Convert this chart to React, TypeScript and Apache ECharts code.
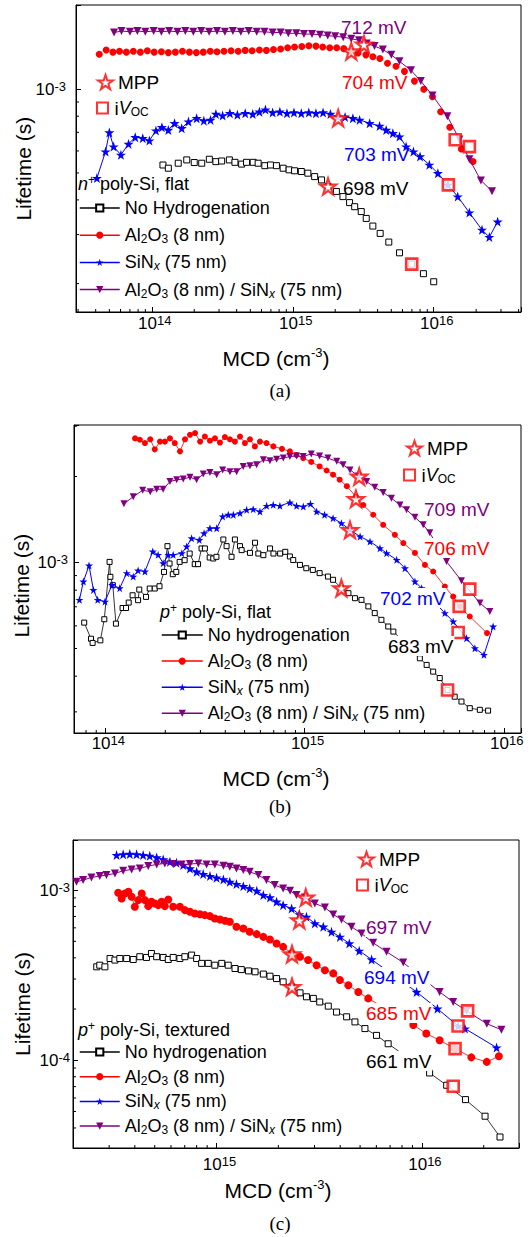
import React, { useEffect, useRef } from 'react';
import * as echarts from 'echarts';

// ---------------- DATA ----------------
// Panel (a): n+ poly-Si, flat
const aXRange = [2.9e13, 4.16e16];
const aYRange = [1.58e-4, 2.01e-3];
const aNoH = [[1.2e14,5.34e-4],[1.31e14,5.2e-4],[1.54e14,5.42e-4],[1.77e14,5.57e-4],[2.0e14,5.45e-4],[2.26e14,5.42e-4],[2.56e14,5.6e-4],[2.85e14,5.49e-4],[3.13e14,5.52e-4],[3.55e14,5.57e-4],[3.89e14,5.46e-4],[4.34e14,5.38e-4],[4.7e14,5.46e-4],[5.24e14,5.46e-4],[5.68e14,5.42e-4],[6.34e14,5.31e-4],[6.95e14,5.34e-4],[7.66e14,5.31e-4],[8.55e14,5.2e-4],[9.42e14,5.13e-4],[1.03e15,5.09e-4],[1.15e15,5.06e-4],[1.28e15,4.99e-4],[1.43e15,4.85e-4],[1.6e15,4.72e-4],[1.78e15,4.47e-4],[2.04e15,4.29e-4],[2.27e15,4.11e-4],[2.53e15,3.91e-4],[2.75e15,3.78e-4],[3.06e15,3.63e-4],[3.32e15,3.43e-4],[3.7e15,3.22e-4],[4.17e15,3.03e-4],[4.8e15,2.82e-4],[5.72e15,2.58e-4],[6.98e15,2.35e-4],[8.45e15,2.17e-4],[1.0e16,2.03e-4]];
const aAl = [[4.24e13,1.336e-3],[4.75e13,1.385e-3],[5.3e13,1.36e-3],[5.9e13,1.37e-3],[6.6e13,1.36e-3],[7.4e13,1.37e-3],[8.3e13,1.36e-3],[9.3e13,1.375e-3],[1.04e14,1.36e-3],[1.17e14,1.365e-3],[1.31e14,1.355e-3],[1.47e14,1.36e-3],[1.65e14,1.37e-3],[1.85e14,1.36e-3],[2.07e14,1.355e-3],[2.32e14,1.36e-3],[2.6e14,1.37e-3],[2.9e14,1.365e-3],[3.25e14,1.37e-3],[3.65e14,1.375e-3],[4.1e14,1.37e-3],[4.6e14,1.38e-3],[5.15e14,1.375e-3],[5.8e14,1.385e-3],[6.5e14,1.38e-3],[7.3e14,1.39e-3],[8.2e14,1.395e-3],[9.2e14,1.41e-3],[1.03e15,1.42e-3],[1.16e15,1.425e-3],[1.3e15,1.435e-3],[1.46e15,1.43e-3],[1.63e15,1.42e-3],[1.83e15,1.41e-3],[2.05e15,1.41e-3],[2.3e15,1.4e-3],[2.6e15,1.37e-3],[2.9e15,1.35e-3],[3.3e15,1.33e-3],[3.7e15,1.31e-3],[4.15e15,1.29e-3],[4.7e15,1.24e-3],[5.4e15,1.21e-3],[6.2e15,1.16e-3],[7.3e15,1.07e-3],[8.5e15,1.0e-3],[9.8e15,9.4e-4],[1.12e16,8.3e-4],[1.3e16,7.3e-4],[1.57e16,6.1e-4],[1.9e16,5.5e-4]];
const aSiN = [[4.08e13,4.79e-4],[4.7e13,5.97e-4],[5.0e13,6.99e-4],[5.36e13,6.22e-4],[6.04e13,5.81e-4],[6.84e13,6.36e-4],[7.63e13,6.72e-4],[8.63e13,6.67e-4],[9.62e13,6.54e-4],[1.07e14,7.1e-4],[1.18e14,7.3e-4],[1.31e14,7.14e-4],[1.45e14,7.55e-4],[1.63e14,7.24e-4],[1.82e14,7.65e-4],[2.08e14,7.87e-4],[2.34e14,7.71e-4],[2.61e14,7.76e-4],[2.85e14,8.15e-4],[3.18e14,8.04e-4],[3.58e14,8.2e-4],[4.05e14,8.1e-4],[4.6e14,8.2e-4],[5.2e14,8.15e-4],[5.8e14,8.3e-4],[6.4e14,8.45e-4],[7.2e14,8.25e-4],[8.1e14,8.3e-4],[9.1e14,8.2e-4],[1.02e15,8.25e-4],[1.15e15,8.2e-4],[1.3e15,8.25e-4],[1.46e15,8.2e-4],[1.64e15,8.25e-4],[1.85e15,8.15e-4],[2.1e15,7.95e-4],[2.35e15,7.95e-4],[2.67e15,7.87e-4],[2.98e15,7.76e-4],[3.51e15,7.55e-4],[4.13e15,7.38e-4],[4.6e15,7.14e-4],[5.13e15,6.95e-4],[5.72e15,6.76e-4],[6.37e15,6.22e-4],[7.18e15,5.97e-4],[8.0e15,5.73e-4],[9.31e15,5.35e-4],[1.07e16,4.99e-4],[1.26e16,4.53e-4],[1.48e16,4.11e-4],[1.79e16,3.6e-4],[2.2e16,3.12e-4],[2.48e16,2.94e-4],[2.84e16,3.34e-4]];
const aBoth = [[5.4e13,1.6e-3],[6.1e13,1.62e-3],[7.0e13,1.61e-3],[7.9e13,1.62e-3],[9.0e13,1.61e-3],[1.03e14,1.62e-3],[1.17e14,1.61e-3],[1.33e14,1.62e-3],[1.52e14,1.61e-3],[1.73e14,1.62e-3],[1.97e14,1.61e-3],[2.24e14,1.62e-3],[2.55e14,1.61e-3],[2.9e14,1.62e-3],[3.3e14,1.61e-3],[3.76e14,1.62e-3],[4.28e14,1.61e-3],[4.87e14,1.62e-3],[5.55e14,1.61e-3],[6.3e14,1.61e-3],[7.2e14,1.6e-3],[8.2e14,1.6e-3],[9.3e14,1.59e-3],[1.06e15,1.59e-3],[1.2e15,1.58e-3],[1.37e15,1.58e-3],[1.56e15,1.57e-3],[1.77e15,1.56e-3],[2.0e15,1.55e-3],[2.28e15,1.54e-3],[2.6e15,1.52e-3],[2.95e15,1.5e-3],[3.35e15,1.46e-3],[3.8e15,1.43e-3],[4.36e15,1.39e-3],[5.0e15,1.33e-3],[5.72e15,1.26e-3],[6.9e15,1.17e-3],[8.1e15,1.07e-3],[9.8e15,9.5e-4],[1.25e16,8.0e-4],[1.52e16,6.6e-4],[1.79e16,5.6e-4],[2.16e16,4.7e-4],[2.59e16,4.3e-4]];
const aMPP = [[3.2e15,1.45e-3],[2.6e15,1.37e-3],[2.1e15,7.87e-4],[1.78e15,4.47e-4]];
const aVoc = [[1.42e16,6.58e-4],[1.79e16,6.22e-4],[1.27e16,4.53e-4],[6.98e15,2.35e-4]];
const aNotes = ['712 mV', '704 mV', '703 mV', '698 mV'];

// Panel (b): p+ poly-Si, flat
const bXRange = [6.96e13, 1.22e16];
const bYRange = [2.53e-4, 3.03e-3];
const bNoH = [[7.83e13,6.16e-4],[8.47e13,5.41e-4],[8.63e13,5.23e-4],[9.44e13,5.34e-4],[9.88e13,6.33e-4],[1.05e14,1.005e-3],[1.06e14,8.91e-4],[1.09e14,8.33e-4],[1.13e14,6.11e-4],[1.22e14,6.93e-4],[1.27e14,6.93e-4],[1.31e14,7.24e-4],[1.37e14,7.68e-4],[1.46e14,7.38e-4],[1.48e14,8.04e-4],[1.6e14,7.58e-4],[1.67e14,8.11e-4],[1.77e14,8.11e-4],[1.87e14,8.26e-4],[1.97e14,9.27e-4],[2.05e14,1.141e-3],[2.1e14,9.92e-4],[2.18e14,9.1e-4],[2.27e14,9.27e-4],[2.36e14,1.005e-3],[2.5e14,1.019e-3],[2.65e14,1.075e-3],[2.81e14,9.87e-4],[2.92e14,9.87e-4],[3.04e14,1.12e-3],[3.16e14,1.12e-3],[3.34e14,1.041e-3],[3.48e14,1.033e-3],[3.61e14,1.047e-3],[3.91e14,1.204e-3],[4.06e14,1.141e-3],[4.3e14,1.047e-3],[4.47e14,1.204e-3],[4.74e14,1.141e-3],[4.83e14,1.105e-3],[5.32e14,1.081e-3],[5.64e14,1.173e-3],[5.86e14,1.075e-3],[6.21e14,1.061e-3],[6.71e14,1.12e-3],[6.98e14,1.075e-3],[7.54e14,1.075e-3],[8.0e14,1.09e-3],[8.44e14,1.05e-3],[8.77e14,1.02e-3],[9.48e14,9.81e-4],[1.02e15,9.55e-4],[1.1e15,9.42e-4],[1.19e15,9.18e-4],[1.31e15,8.93e-4],[1.39e15,8.7e-4],[1.53e15,8.13e-4],[1.66e15,7.81e-4],[1.79e15,7.5e-4],[1.93e15,7.4e-4],[2.09e15,7.02e-4],[2.25e15,6.65e-4],[2.43e15,6.3e-4],[2.63e15,5.97e-4],[2.79e15,5.73e-4],[3.79e15,4.62e-4],[4.1e15,4.38e-4],[4.42e15,4.15e-4],[4.77e15,3.94e-4],[5.22e15,3.58e-4],[5.67e15,3.39e-4],[6.13e15,3.26e-4],[6.75e15,3.09e-4],[7.58e15,3.05e-4],[8.34e15,3.03e-4]];
const bAl = [[1.41e14,2.72e-3],[1.49e14,2.69e-3],[1.58e14,2.62e-3],[1.68e14,2.7e-3],[1.77e14,2.49e-3],[1.88e14,2.65e-3],[1.99e14,2.65e-3],[2.11e14,2.72e-3],[2.23e14,2.62e-3],[2.37e14,2.45e-3],[2.51e14,2.7e-3],[2.66e14,2.8e-3],[2.82e14,2.84e-3],[2.99e14,2.65e-3],[3.16e14,2.76e-3],[3.35e14,2.67e-3],[3.55e14,2.72e-3],[3.76e14,2.63e-3],[3.98e14,2.75e-3],[4.22e14,2.7e-3],[4.47e14,2.65e-3],[4.74e14,2.76e-3],[5.02e14,2.62e-3],[5.32e14,2.7e-3],[5.63e14,2.55e-3],[5.97e14,2.65e-3],[6.44e14,2.62e-3],[6.97e14,2.55e-3],[7.7e14,2.5e-3],[8.44e14,2.45e-3],[9.1e14,2.38e-3],[9.84e14,2.32e-3],[1.08e15,2.25e-3],[1.19e15,2.17e-3],[1.29e15,2.1e-3],[1.39e15,2.03e-3],[1.5e15,1.95e-3],[1.63e15,1.85e-3],[1.81e15,1.7e-3],[1.97e15,1.59e-3],[2.21e15,1.47e-3],[2.48e15,1.355e-3],[2.84e15,1.25e-3],[3.13e15,1.17e-3],[3.58e15,1.08e-3],[4.02e15,9.81e-4],[4.42e15,9.3e-4],[5.06e15,8.24e-4],[5.57e15,7.6e-4],[6.01e15,7.02e-4],[6.75e15,6.47e-4],[8.24e15,5.66e-4]];
const bSiN = [[7.41e13,7.4e-4],[7.76e13,8.58e-4],[8.28e13,9.76e-4],[8.71e13,8.02e-4],[9.15e13,7.4e-4],[9.96e13,7.3e-4],[1.08e14,8.35e-4],[1.18e14,8.13e-4],[1.28e14,9.18e-4],[1.38e14,8.93e-4],[1.46e14,9.38e-4],[1.58e14,9.3e-4],[1.73e14,1.093e-3],[1.84e14,1.064e-3],[1.95e14,9.95e-4],[2.07e14,1.064e-3],[2.19e14,1.064e-3],[2.42e14,1.078e-3],[2.56e14,1.138e-3],[2.71e14,1.216e-3],[2.96e14,1.2e-3],[3.13e14,1.267e-3],[3.35e14,1.318e-3],[3.62e14,1.318e-3],[3.88e14,1.449e-3],[4.14e14,1.47e-3],[4.39e14,1.47e-3],[4.74e14,1.49e-3],[5.12e14,1.529e-3],[5.52e14,1.537e-3],[5.97e14,1.508e-3],[6.45e14,1.579e-3],[6.96e14,1.592e-3],[7.52e14,1.579e-3],[8.44e14,1.622e-3],[9.12e14,1.579e-3],[9.85e14,1.57e-3],[1.07e15,1.605e-3],[1.15e15,1.508e-3],[1.26e15,1.47e-3],[1.39e15,1.43e-3],[1.53e15,1.373e-3],[1.69e15,1.301e-3],[1.9e15,1.233e-3],[2.13e15,1.184e-3],[2.39e15,1.122e-3],[2.58e15,1.078e-3],[2.9e15,1.022e-3],[3.19e15,9.55e-4],[3.58e15,8.58e-4],[3.87e15,8.13e-4],[5.06e15,6.65e-4],[5.57e15,6.22e-4],[6.5e15,5.43e-4],[7.16e15,5.01e-4],[7.95e15,4.75e-4],[8.84e15,5.97e-4]];
const bBoth = [[1.24e14,1.605e-3],[1.38e14,1.7e-3],[1.54e14,1.79e-3],[1.68e14,1.77e-3],[1.81e14,1.806e-3],[1.95e14,1.806e-3],[2.11e14,1.92e-3],[2.28e14,1.948e-3],[2.46e14,1.96e-3],[2.66e14,1.99e-3],[2.87e14,1.948e-3],[3.1e14,2.04e-3],[3.35e14,2.065e-3],[3.62e14,2.03e-3],[3.88e14,2.11e-3],[4.22e14,2.08e-3],[4.56e14,2.08e-3],[4.92e14,2.17e-3],[5.32e14,2.18e-3],[5.74e14,2.2e-3],[6.21e14,2.29e-3],[6.7e14,2.27e-3],[7.24e14,2.3e-3],[7.82e14,2.32e-3],[8.44e14,2.35e-3],[9.12e14,2.36e-3],[9.84e14,2.35e-3],[1.08e15,2.4e-3],[1.19e15,2.36e-3],[1.31e15,2.32e-3],[1.45e15,2.26e-3],[1.56e15,2.2e-3],[1.69e15,2.11e-3],[1.86e15,2.01e-3],[2.05e15,1.92e-3],[2.25e15,1.835e-3],[2.48e15,1.76e-3],[2.73e15,1.68e-3],[3.01e15,1.59e-3],[3.25e15,1.53e-3],[3.58e15,1.44e-3],[3.94e15,1.355e-3],[4.25e15,1.27e-3],[5.16e15,1.008e-3],[6.13e15,8.63e-4],[7.59e15,7.21e-4],[8.51e15,6.74e-4]];
const bMPP = [[1.88e15,2.0e-3],[1.81e15,1.67e-3],[1.69e15,1.3e-3],[1.53e15,8.13e-4]];
const bVoc = [[6.75e15,8.07e-4],[5.97e15,7.02e-4],[5.9e15,5.69e-4],[5.22e15,3.58e-4]];
const bNotes = ['709 mV', '706 mV', '702 mV', '683 mV'];

// Panel (c): p+ poly-Si, textured
const cXRange = [2.0e14, 2.97e16];
const cYRange = [3.05e-5, 1.97e-3];
const cNoH = [[2.61e14,3.54e-4],[2.7e14,3.62e-4],[2.86e14,3.54e-4],[3.03e14,3.96e-4],[3.2e14,3.88e-4],[3.38e14,3.96e-4],[3.65e14,3.96e-4],[3.93e14,3.91e-4],[4.23e14,4.06e-4],[4.56e14,4.02e-4],[4.82e14,4.24e-4],[5.11e14,4.06e-4],[5.5e14,4.02e-4],[5.82e14,3.91e-4],[6.15e14,4.02e-4],[6.63e14,3.96e-4],[7.01e14,4.06e-4],[7.56e14,4.15e-4],[8.0e14,3.96e-4],[8.46e14,3.71e-4],[9.11e14,3.71e-4],[9.81e14,3.62e-4],[1.06e15,3.71e-4],[1.14e15,3.62e-4],[1.23e15,3.46e-4],[1.32e15,3.41e-4],[1.43e15,3.35e-4],[1.54e15,3.31e-4],[1.69e15,3.21e-4],[1.82e15,3.12e-4],[1.96e15,3.02e-4],[2.11e15,2.89e-4],[2.32e15,2.7e-4],[2.55e15,2.49e-4],[2.74e15,2.36e-4],[2.96e15,2.31e-4],[3.18e15,2.2e-4],[3.5e15,2.08e-4],[3.84e15,1.92e-4],[4.3e15,1.8e-4],[4.72e15,1.68e-4],[5.28e15,1.535e-4],[6.01e15,1.4e-4],[6.85e15,1.25e-4],[1.09e16,8.42e-5],[1.32e16,7.13e-5],[1.63e16,5.87e-5],[2.03e16,4.69e-5],[2.4e16,3.54e-5]];
const cAl = [[3.32e14,9.65e-4],[3.45e14,8.93e-4],[3.58e14,9.56e-4],[3.72e14,9.78e-4],[3.86e14,9.14e-4],[4.0e14,7.98e-4],[4.16e14,8.73e-4],[4.32e14,9.56e-4],[4.48e14,8.73e-4],[4.65e14,8.05e-4],[4.82e14,8.54e-4],[5.01e14,8.35e-4],[5.2e14,8.16e-4],[5.4e14,8.54e-4],[5.6e14,8.05e-4],[5.82e14,8.81e-4],[6.15e14,7.98e-4],[6.63e14,7.98e-4],[7.01e14,7.63e-4],[7.42e14,7.46e-4],[7.84e14,7.29e-4],[8.3e14,7.22e-4],[8.77e14,7.13e-4],[9.29e14,7.03e-4],[9.81e14,6.81e-4],[1.04e15,6.72e-4],[1.1e15,6.6e-4],[1.16e15,6.51e-4],[1.25e15,6.09e-4],[1.35e15,5.95e-4],[1.45e15,5.69e-4],[1.57e15,5.51e-4],[1.69e15,5.31e-4],[1.82e15,5.13e-4],[1.96e15,4.86e-4],[2.11e15,4.64e-4],[2.32e15,4.25e-4],[2.55e15,4.06e-4],[2.79e15,3.88e-4],[3.07e15,3.62e-4],[3.37e15,3.38e-4],[3.7e15,3.24e-4],[3.99e15,2.96e-4],[4.38e15,2.76e-4],[4.9e15,2.52e-4],[5.48e15,2.31e-4],[9.08e15,1.61e-4],[1.05e16,1.435e-4],[1.22e16,1.31e-4],[1.45e16,1.17e-4],[1.74e16,1.04e-4],[2.07e16,9.78e-5],[2.37e16,1.056e-4]];
const cSiN = [[3.26e14,1.606e-3],[3.51e14,1.622e-3],[3.78e14,1.63e-3],[4.08e14,1.622e-3],[4.39e14,1.606e-3],[4.73e14,1.59e-3],[5.11e14,1.556e-3],[5.5e14,1.515e-3],[5.93e14,1.468e-3],[6.38e14,1.448e-3],[6.88e14,1.404e-3],[7.42e14,1.34e-3],[8.0e14,1.282e-3],[8.61e14,1.242e-3],[9.29e14,1.209e-3],[1.0e15,1.182e-3],[1.08e15,1.156e-3],[1.16e15,1.119e-3],[1.25e15,1.085e-3],[1.35e15,1.055e-3],[1.45e15,1.023e-3],[1.57e15,9.91e-4],[1.69e15,9.35e-4],[1.82e15,9.05e-4],[1.96e15,8.54e-4],[2.11e15,8.16e-4],[2.32e15,7.8e-4],[2.53e15,7.2e-4],[2.74e15,6.97e-4],[3.01e15,6.37e-4],[3.31e15,6.09e-4],[3.63e15,5.69e-4],[3.99e15,5.31e-4],[4.43e15,4.86e-4],[4.95e15,4.4e-4],[5.69e15,3.91e-4],[9.42e15,2.52e-4],[1.19e16,2.01e-4],[1.5e16,1.59e-4],[1.62e16,1.535e-4],[2.31e16,1.187e-4]];
const cBoth = [[2.08e14,1.119e-3],[2.24e14,1.145e-3],[2.46e14,1.187e-3],[2.7e14,1.209e-3],[2.91e14,1.225e-3],[3.2e14,1.253e-3],[3.51e14,1.299e-3],[3.86e14,1.323e-3],[4.23e14,1.34e-3],[4.65e14,1.384e-3],[5.11e14,1.416e-3],[5.6e14,1.435e-3],[6.15e14,1.422e-3],[6.76e14,1.416e-3],[7.42e14,1.422e-3],[8.15e14,1.435e-3],[8.94e14,1.416e-3],[9.81e14,1.416e-3],[1.08e15,1.39e-3],[1.16e15,1.372e-3],[1.25e15,1.34e-3],[1.35e15,1.311e-3],[1.45e15,1.282e-3],[1.6e15,1.225e-3],[1.75e15,1.145e-3],[1.92e15,1.07e-3],[2.11e15,1.023e-3],[2.28e15,9.91e-4],[2.45e15,9.35e-4],[2.69e15,9.05e-4],[3.01e15,8.35e-4],[3.37e15,7.91e-4],[3.7e15,7.19e-4],[4.06e15,6.72e-4],[4.54e15,6.09e-4],[5.08e15,5.56e-4],[5.79e15,4.9e-4],[6.73e15,4.34e-4],[8.11e15,3.75e-4],[1.22e16,2.52e-4],[1.42e16,2.2e-4],[1.65e16,1.95e-4],[2.07e16,1.64e-4],[2.44e16,1.51e-4]];
const cMPP = [[2.72e15,9.05e-4],[2.53e15,6.66e-4],[2.33e15,4.2e-4],[2.33e15,2.7e-4]];
const cVoc = [[1.67e16,1.95e-4],[1.5e16,1.59e-4],[1.45e16,1.17e-4],[1.42e16,7.03e-5]];
const cNotes = ['697 mV', '694 mV', '685 mV', '661 mV'];

const namesA = ['No Hydrogenation', 'Al2O3 (8 nm)', 'SiNx (75 nm)', 'Al2O3 (8 nm) / SiNx (75 nm)'];
const namesBC = ['No hydrogenation', 'Al2O3 (8 nm)', 'SiNx (75 nm)', 'Al2O3 (8 nm) / SiNx (75 nm)'];
const headers = ['{it|n}{sup|+} poly-Si, flat', '{it|p}{sup|+} poly-Si, flat', '{it|p}{sup|+} poly-Si, textured'];
const captions = ['(a)', '(b)', '(c)'];

// ---------------- STYLE / LAYOUT ----------------
const FONT = "'Liberation Sans', Arial, Helvetica, sans-serif";
const SERIF = "'Liberation Serif', 'Times New Roman', serif";
const PURPLE = '#800080';
const RED = '#ff0000';
const BLUE = '#0000ff';
const STAR = 'path://M50,0L61.8,35.1L98.1,35.1L68.8,56.8L79.4,91L50,70L20.6,91L31.2,56.8L1.9,35.1L38.2,35.1Z';
const DTRI = 'path://M0,0L10,0L5,9Z';
const SQR = 'path://M0,0L10,0L10,10L0,10Z';

const LAYOUT = [
  { grid: { left: 76, top: 5, width: 445, height: 307 }, xMargin: 2, yMargin: 10, sizes: [6, 7, 10, 8], lineW: [0, 0, 1, 1],
    legend: { left: 79, top: 198, gap: 7.2, w: 40 }, mpp: { left: 97, top: 72 }, voc: { left: 96, top: 98 },
    header: [78, 184], notes: [[340, 27], [341, 82], [343, 154], [342, 188]], noteBg: false,
    ytitle: [23, 168.7], xtitle: [276, 358], caption: [280, 390] },
  { grid: { left: 74, top: 425, width: 447, height: 308 }, xMargin: 1, yMargin: 6, sizes: [5, 6, 8, 7], lineW: [0.8, 0.8, 1, 1],
    legend: { left: 161, top: 625, gap: 6.1, w: 41 }, mpp: { left: 406, top: 438 }, voc: { left: 403, top: 465 },
    header: [160, 612], notes: [[423, 509], [423, 548], [379, 598], [387, 646]], noteBg: true,
    ytitle: [21.7, 585.7], xtitle: [276, 778], caption: [280, 806] },
  { grid: { left: 73, top: 840, width: 446, height: 308 }, xMargin: 7, yMargin: 3, sizes: [6, 8, 10, 8], lineW: [0.8, 0.8, 1, 1],
    legend: { left: 79, top: 1042, gap: 4.7, w: 40 }, mpp: { left: 358, top: 849 }, voc: { left: 356, top: 875 },
    header: [78, 1030], notes: [[365, 927], [363, 977], [365, 1013], [365, 1061]], noteBg: true,
    ytitle: [22.7, 1004], xtitle: [278, 1190], caption: [280, 1223] },
];

const PANELS = [
  { xr: aXRange, yr: aYRange, data: [aNoH, aAl, aSiN, aBoth], mpp: aMPP, voc: aVoc, notes: aNotes, names: namesA },
  { xr: bXRange, yr: bYRange, data: [bNoH, bAl, bSiN, bBoth], mpp: bMPP, voc: bVoc, notes: bNotes, names: namesBC },
  { xr: cXRange, yr: cYRange, data: [cNoH, cAl, cSiN, cBoth], mpp: cMPP, voc: cVoc, notes: cNotes, names: namesBC },
];

const SERIES_STYLE = [
  { line: '#000', symbol: 'rect', fill: '#fff', border: '#000', bw: 1 },
  { line: RED, symbol: 'circle', fill: RED, border: RED, bw: 0 },
  { line: BLUE, symbol: STAR, fill: BLUE, border: BLUE, bw: 0 },
  { line: PURPLE, symbol: DTRI, fill: PURPLE, border: PURPLE, bw: 0 },
];
const NOTE_COLORS = [[PURPLE, RED, BLUE, '#000'], [PURPLE, RED, BLUE, '#000'], [PURPLE, BLUE, RED, '#000']];

const LEGEND_RICH_TEXT: Record<string, string> = {
  'Al2O3 (8 nm)': 'Al{sub|2}O{sub|3} (8 nm)',
  'SiNx (75 nm)': 'SiN{subi|x} (75 nm)',
  'Al2O3 (8 nm) / SiNx (75 nm)': 'Al{sub|2}O{sub|3} (8 nm) / SiN{subi|x} (75 nm)',
  'iVOC': 'i{it|V}{sub|OC}',
};

const TEXT_RICH = {
  sub: { fontSize: 12, lineHeight: 8, verticalAlign: 'bottom', fontFamily: FONT, color: '#000' },
  subi: { fontSize: 12, lineHeight: 8, verticalAlign: 'bottom', fontStyle: 'italic', fontFamily: FONT, color: '#000' },
  it: { fontSize: 18, lineHeight: 20, fontStyle: 'italic', fontFamily: FONT, color: '#000' },
  sup: { fontSize: 12, lineHeight: 6, verticalAlign: 'top', fontFamily: FONT, color: '#000' },
};
const TICK_RICH = {
  b: { fontSize: 17, lineHeight: 19, fontFamily: FONT, fill: '#000', color: '#000' },
  sup: { fontSize: 13, lineHeight: 6, verticalAlign: 'top', fontFamily: FONT, fill: '#000', color: '#000' },
};

function powLabel(v: number) {
  const l = Math.log10(v);
  const e = Math.round(l);
  if (Math.abs(l - e) > 1e-6) return '';
  return '{b|10}{sup|' + e + '}';
}

function majorTicks(min: number, max: number) {
  const out: number[] = [];
  for (let e = Math.ceil(Math.log10(min)); e <= Math.floor(Math.log10(max)); e++) out.push(Math.pow(10, e));
  return out;
}

function minorTicks(min: number, max: number) {
  const out: number[] = [];
  for (let e = Math.floor(Math.log10(min)); e <= Math.ceil(Math.log10(max)); e++) {
    for (let k = 2; k <= 9; k++) {
      const v = k * Math.pow(10, e);
      if (v > min * 1.0001 && v < max * 0.9999) out.push(v);
    }
  }
  return out;
}

function buildOption() {
  const grid: any[] = [], xAxis: any[] = [], yAxis: any[] = [], series: any[] = [], legend: any[] = [], graphic: any[] = [];
  PANELS.forEach((p, i) => {
    const L = LAYOUT[i];
    grid.push({ ...L.grid, show: true, borderColor: '#000', borderWidth: 1, backgroundColor: 'transparent' });
    const axisCommon = {
      type: 'log', logBase: 10, gridIndex: i,
      axisLine: { show: true, onZero: false, lineStyle: { color: '#000', width: 1 } },
      axisTick: { show: true, inside: true, length: 5, lineStyle: { color: '#000', width: 1 } },
      axisLabel: { show: false },
      splitLine: { show: false }, minorTick: { show: false }, minorSplitLine: { show: false },
    };
    xAxis.push({ ...axisCommon, min: p.xr[0], max: p.xr[1] });
    yAxis.push({ ...axisCommon, min: p.yr[0], max: p.yr[1] });

    // minor ticks and tick labels, placed through the axes' own scales
    const xm = minorTicks(p.xr[0], p.xr[1]).map((v) => [v, p.yr[0]]);
    const ym = minorTicks(p.yr[0], p.yr[1]).map((v) => [p.xr[0], v]);
    const xl = majorTicks(p.xr[0], p.xr[1]).map((v) => [v, p.yr[0]]);
    const yl = majorTicks(p.yr[0], p.yr[1]).map((v) => [p.xr[0], v]);
    series.push({ type: 'custom', xAxisIndex: i, yAxisIndex: i, data: xm, silent: true, z: 6, clip: false,
      renderItem: (_: any, api: any) => { const c = api.coord([api.value(0), api.value(1)]);
        return { type: 'line', shape: { x1: c[0], y1: c[1], x2: c[0], y2: c[1] - 3 }, style: { stroke: '#000', lineWidth: 1 } }; } });
    series.push({ type: 'custom', xAxisIndex: i, yAxisIndex: i, data: ym, silent: true, z: 6, clip: false,
      renderItem: (_: any, api: any) => { const c = api.coord([api.value(0), api.value(1)]);
        return { type: 'line', shape: { x1: c[0], y1: c[1], x2: c[0] + 3, y2: c[1] }, style: { stroke: '#000', lineWidth: 1 } }; } });
    series.push({ type: 'custom', xAxisIndex: i, yAxisIndex: i, data: xl, silent: true, z: 6, clip: false,
      renderItem: (_: any, api: any) => { const v = api.value(0); const c = api.coord([v, api.value(1)]);
        return { type: 'text', x: c[0] + 3, y: c[1] + L.xMargin,
          style: { text: powLabel(v), rich: TICK_RICH, fill: '#000', fontSize: 17, fontFamily: FONT,
            align: 'center', verticalAlign: 'top', textAlign: 'center', textVerticalAlign: 'top' } }; } });
    series.push({ type: 'custom', xAxisIndex: i, yAxisIndex: i, data: yl, silent: true, z: 6, clip: false,
      renderItem: (_: any, api: any) => { const v = api.value(1); const c = api.coord([api.value(0), v]);
        return { type: 'text', x: c[0] - L.yMargin, y: c[1],
          style: { text: powLabel(v), rich: TICK_RICH, fill: '#000', fontSize: 17, fontFamily: FONT,
            align: 'right', verticalAlign: 'middle', textAlign: 'right', textVerticalAlign: 'middle' } }; } });

    p.data.forEach((d, k) => {
      const s = SERIES_STYLE[k];
      const w = L.lineW[k];
      series.push({ type: 'line', name: p.names[k], xAxisIndex: i, yAxisIndex: i, data: d,
        symbol: s.symbol, symbolSize: L.sizes[k], showSymbol: true, showAllSymbol: true, z: 2 + k * 0.1,
        lineStyle: { color: s.line, width: w, opacity: w > 0 ? 1 : 0 },
        itemStyle: { color: s.fill, borderColor: s.border, borderWidth: s.bw } });
    });
    series.push({ type: 'scatter', name: 'MPP', xAxisIndex: i, yAxisIndex: i, data: p.mpp, symbol: STAR, symbolSize: 16, z: 4,
      itemStyle: { color: '#fff', borderColor: RED, borderWidth: 2.2 } });
    series.push({ type: 'scatter', name: 'iVOC', xAxisIndex: i, yAxisIndex: i, data: p.voc, symbol: SQR, symbolSize: 11, z: 4,
      itemStyle: { color: '#fff', borderColor: RED, borderWidth: 2.6 } });

    const legTextStyle = { color: '#000', fontSize: 18, lineHeight: 20, fontFamily: FONT, rich: TEXT_RICH };
    const legTextStyle2 = { color: '#000', fontSize: 19, lineHeight: 20, fontFamily: FONT, rich: TEXT_RICH };
    legend.push({
      data: p.names.map((n, k) => ({ name: n, lineStyle: { color: SERIES_STYLE[k].line, width: 1.5, opacity: 1, type: 'solid' } })),
      orient: 'vertical', left: L.legend.left, top: L.legend.top, itemGap: L.legend.gap,
      itemWidth: L.legend.w, itemHeight: 9, padding: 0, selectedMode: false,
      formatter: (n: string) => LEGEND_RICH_TEXT[n] || n, textStyle: legTextStyle });
    legend.push({ data: ['MPP'], orient: 'vertical', left: L.mpp.left, top: L.mpp.top, itemWidth: 15, itemHeight: 15,
      padding: 0, selectedMode: false, textStyle: legTextStyle2 });
    legend.push({ data: ['iVOC'], orient: 'vertical', left: L.voc.left, top: L.voc.top, itemWidth: 14, itemHeight: 11,
      padding: 0, selectedMode: false, formatter: (n: string) => LEGEND_RICH_TEXT[n] || n, textStyle: legTextStyle2 });

    // texts
    graphic.push({ type: 'text', x: L.header[0], y: L.header[1], z: 20,
      style: { text: headers[i], fontSize: 18, fontFamily: FONT, fill: '#000', lineHeight: 20, rich: TEXT_RICH,
        align: 'left', verticalAlign: 'middle', textAlign: 'left', textVerticalAlign: 'middle' } });
    p.notes.forEach((t, k) => {
      graphic.push({ type: 'text', x: L.notes[k][0], y: L.notes[k][1], z: 20,
        style: { text: t, fontSize: 19, fontFamily: FONT, fill: NOTE_COLORS[i][k], lineHeight: 20,
          backgroundColor: L.noteBg ? '#fff' : 'transparent', padding: [0, 1],
          align: 'left', verticalAlign: 'middle', textAlign: 'left', textVerticalAlign: 'middle' } });
    });
    graphic.push({ type: 'text', x: L.ytitle[0], y: L.ytitle[1], rotation: Math.PI / 2, z: 20,
      style: { text: 'Lifetime (s)', fontSize: 21, fontFamily: FONT, fill: '#000',
        align: 'center', verticalAlign: 'middle', textAlign: 'center', textVerticalAlign: 'middle' } });
    graphic.push({ type: 'text', x: L.xtitle[0], y: L.xtitle[1], z: 20,
      style: { text: 'MCD (cm{sup|-3})', fontSize: 21, fontFamily: FONT, fill: '#000', lineHeight: 24,
        rich: { sup: { fontSize: 13, lineHeight: 8, verticalAlign: 'top', fontFamily: FONT, color: '#000' } },
        align: 'center', verticalAlign: 'middle', textAlign: 'center', textVerticalAlign: 'middle' } });
    graphic.push({ type: 'text', x: L.caption[0], y: L.caption[1], z: 20,
      style: { text: captions[i], fontSize: 19, fontFamily: SERIF, fill: '#000',
        align: 'center', verticalAlign: 'middle', textAlign: 'center', textVerticalAlign: 'middle' } });
  });

  return { animation: false, backgroundColor: '#fff', grid, xAxis, yAxis, series, legend, graphic };
}

export default function App() {
  const ref = useRef<HTMLDivElement>(null);
  useEffect(() => {
    document.body.style.margin = '0';
    const chart = echarts.init(ref.current as HTMLDivElement, null, { renderer: 'svg' });
    chart.setOption(buildOption() as any);
    return () => chart.dispose();
  }, []);
  return <div ref={ref} style={{ width: 532, height: 1237 }} />;
}
